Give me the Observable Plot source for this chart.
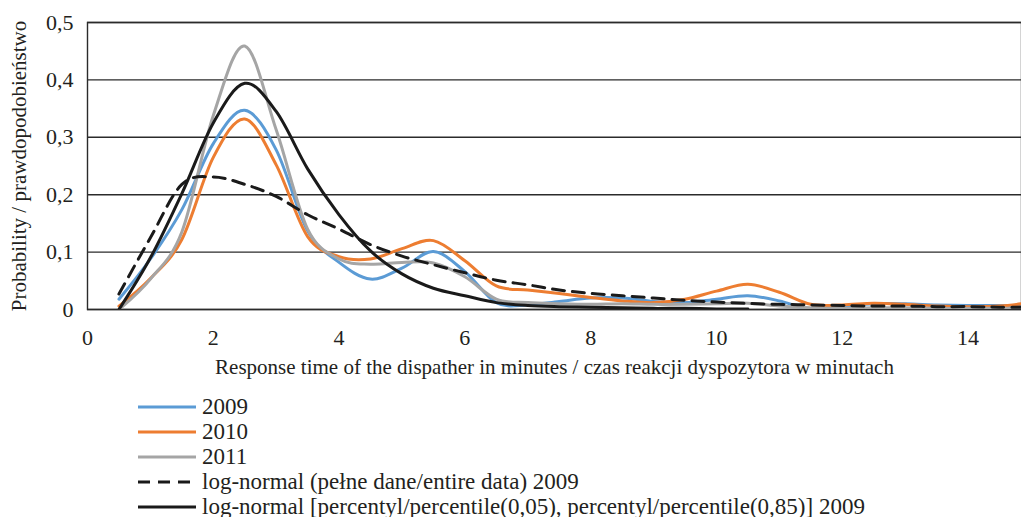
<!DOCTYPE html>
<html><head><meta charset="utf-8">
<script src="https://cdn.jsdelivr.net/npm/d3@7"></script>
<script src="https://cdn.jsdelivr.net/npm/@observablehq/plot@0.6"></script>
<style>
body{margin:0;background:#fff;font-family:"Liberation Serif","Times New Roman",serif;color:#231f20;}
#legend{margin-left:138px;margin-top:14px;font-size:23px;}
.row{height:25px;display:flex;align-items:center;}
.row svg{margin-right:6px;}
</style></head><body>
<div id="chart"></div>
<div id="legend"></div>
<script>
const xs = [0.5,1,1.5,2,2.5,3,3.5,4,4.5,5,5.5,6,6.5,7,7.5,8,8.5,9,9.5,10,10.5,11,11.5,12,12.5,13,13.5,14,14.5,15];
const y2009 = [0.018,0.088,0.174,0.289,0.347,0.278,0.137,0.082,0.053,0.072,0.101,0.066,0.012,0.008,0.014,0.020,0.020,0.014,0.012,0.018,0.024,0.015,0.0,0.005,0.010,0.010,0.008,0.007,0.007,0.007];
const y2010 = [0.006,0.054,0.122,0.265,0.332,0.252,0.127,0.092,0.088,0.106,0.120,0.085,0.041,0.034,0.028,0.021,0.015,0.012,0.018,0.032,0.044,0.030,0.009,0.008,0.011,0.009,0.006,0.005,0.006,0.012];
const y2011 = [0.0,0.053,0.135,0.338,0.459,0.313,0.140,0.088,0.079,0.082,0.081,0.057,0.018,0.012,0.010,0.009,0.010,0.009,0.009,0.010,0.011,0.006,0.003,0.002,0.003,0.003,0.002,0.002,0.002,0.002];
const yLogFull = [0.027,0.125,0.218,0.231,0.218,0.197,0.165,0.140,0.113,0.093,0.078,0.064,0.051,0.043,0.034,0.028,0.024,0.020,0.016,0.013,0.0105,0.009,0.008,0.007,0.006,0.006,0.005,0.005,0.004,0.004];
const xsPct = [0.5,1,1.5,2,2.5,3,3.5,4,4.5,5,5.5,6,6.5,7,7.5,8,8.5,9,9.5,10,10.5];
const yLogPct = [0,0.09,0.202,0.325,0.394,0.345,0.245,0.165,0.102,0.062,0.037,0.024,0.012,0.007,0.005,0.004,0.003,0.002,0.002,0.001,0.001];

const seriesNames = ["2009","2010","2011","log-normal (pełne dane/entire data) 2009","log-normal [percentyl/percentile(0,05), percentyl/percentile(0,85)] 2009"];
const seriesColors = ["#5b9bd5","#ed7d31","#a5a5a5","#1a1a1a","#1a1a1a"];
const seriesDash = [null,null,null,"12,8",null];
const xTicks = [0,2,4,6,8,10,12,14];
const yTicks = [0,0.1,0.2,0.3,0.4,0.5];
const xLabel = "Response time of the dispather in minutes / czas reakcji dyspozytora w minutach";
const yLabel = "Probability / prawdopodobieństwo";

const toRows = (xv, yv) => xv.map((x,i)=>({x, y: yv[i]}));
const data = [toRows(xs,y2009), toRows(xs,y2010), toRows(xs,y2011), toRows(xs,yLogFull), toRows(xsPct,yLogPct)];
const fmt = d => String(d).replace(".", ",");
const curve = d3.curveCardinal.tension(0);

const plot = Plot.plot({
  width: 1021, height: 380,
  marginTop: 22, marginLeft: 87, marginRight: 0, marginBottom: 71,
  style: {fontFamily: "'Liberation Serif','Times New Roman',serif", fontSize: "22px", color: "#231f20", background: "#fff"},
  x: {domain: [0, 14.85]},
  y: {domain: [0, 0.5]},
  marks: [
    Plot.gridY(yTicks, {stroke: "#2b2b2b", strokeOpacity: 1, strokeWidth: 1.4}),
    Plot.frame({stroke: "#2b2b2b", strokeWidth: 1.4}),
    Plot.axisX(xTicks, {tickSize: 0, tickPadding: 20, tickFormat: fmt, label: null, fontSize: 22}),
    Plot.axisX({label: xLabel, ticks: [], tickSize: 0, labelAnchor: "center", labelArrow: "none", labelOffset: 64, fontSize: 21}),
    Plot.axisY(yTicks, {tickSize: 0, tickPadding: 14, tickFormat: fmt, label: null, fontSize: 22}),
    Plot.axisY({label: yLabel, ticks: [], tickSize: 0, labelAnchor: "center", labelArrow: "none", labelOffset: 76, fontSize: 21}),
    ...data.map((rows, i) => Plot.line(rows, {x: "x", y: "y", stroke: seriesColors[i], strokeWidth: 3, strokeDasharray: seriesDash[i], curve, clip: true}))
  ]
});
document.getElementById("chart").appendChild(plot);

const legend = document.getElementById("legend");
seriesNames.forEach((name, i) => {
  const row = document.createElement("div");
  row.className = "row";
  const dash = seriesDash[i] ? ` stroke-dasharray="${seriesDash[i]}"` : "";
  row.innerHTML = `<svg width="58" height="6"><line x1="0" y1="3" x2="58" y2="3" stroke="${seriesColors[i]}" stroke-width="3"${dash}/></svg><span>${name}</span>`;
  legend.appendChild(row);
});
</script>
</body></html>
